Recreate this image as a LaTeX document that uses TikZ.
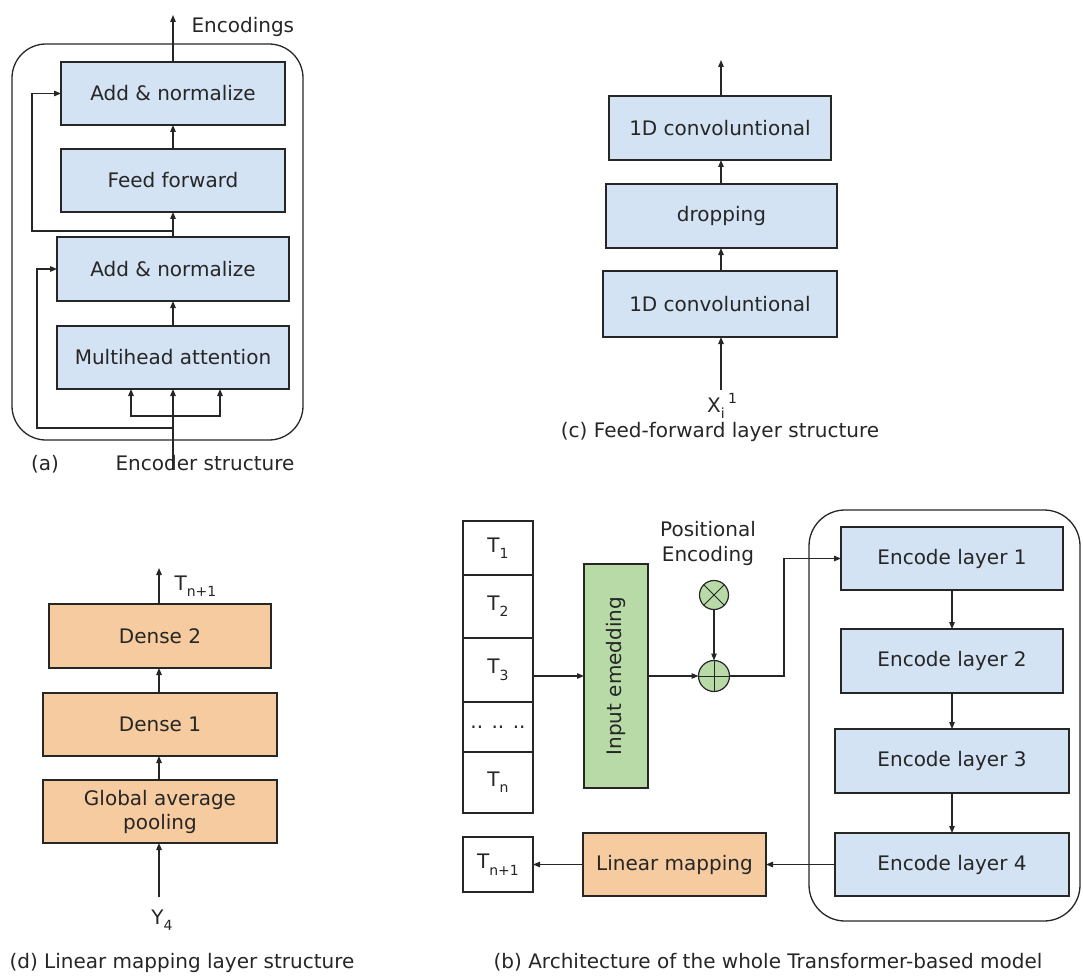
\documentclass[tikz,border=0pt]{standalone}
\usepackage{fontspec}
\setmainfont{DejaVu Sans}
\usetikzlibrary{arrows.meta}

\definecolor{boxblue}{HTML}{D3E3F4}
\definecolor{boxorange}{HTML}{F7CBA0}
\definecolor{boxgreen}{HTML}{B7DAA6}
\definecolor{ink}{HTML}{262626}

% lowered, smaller index text
\newcommand\lowsub[1]{\raisebox{-0.32em}{\fontsize{14}{15}\selectfont #1}}

\begin{document}
\begin{tikzpicture}[x=1pt,y=-1pt,
  font=\fontsize{20}{24}\selectfont, text=ink,
  sz/.style 2 args={minimum width=#1pt, minimum height=#2pt},
  box/.style={draw=ink, line width=1.3pt, inner sep=0pt, outer sep=0pt, align=center},
  bluebox/.style={box, fill=boxblue},
  orangebox/.style={box, fill=boxorange},
  greenbox/.style={box, fill=boxgreen},
  cell/.style={box, fill=white, line width=1.1pt, minimum width=70pt},
  opcircle/.style={circle, draw=ink, fill=boxgreen, line width=1.2pt, inner sep=0pt, outer sep=0pt},
  arr/.style={draw=ink, line width=1.2pt, -{Triangle[length=7pt,width=5.5pt]}},
  wire/.style={draw=ink, line width=1.2pt},
  frame/.style={draw=ink, line width=1.3pt, rounded corners=34pt},
  captxt/.style={anchor=base}
]
\useasboundingbox (0,0) rectangle (1083,976);

% ---------- (a) encoder structure ----------
\draw[frame] (12,44) rectangle (303,440);
\node[bluebox, sz={224}{63}] (a_add1) at (173,93.5)  {Add \& normalize};
\node[bluebox, sz={224}{63}] (a_ff)   at (173,180.5) {Feed forward};
\node[bluebox, sz={232}{64}] (a_add2) at (173,269)   {Add \& normalize};
\node[bluebox, sz={232}{63}] (a_mha)  at (173,357.5) {Multihead attention};

\coordinate (a_out) at (173,15);
\coordinate (a_in)  at (173,470);
\coordinate (a_j1)  at (173,231);
\coordinate (a_j2)  at (173,416);
\coordinate (a_j3)  at (173,428);

\draw[arr] (a_add1.north) -- (a_out);
\node[anchor=base west] (a_outlbl) at (188,33) {Encodings};
\draw[arr] (a_ff.north) -- (a_add1.south);
\draw[arr] (a_add2.north) -- (a_ff.south);
\draw[arr] (a_j1) -- ++(-141,0) |- (a_add1.west);
\draw[arr] (a_mha.north) -- (a_add2.south);
\draw[arr] (a_in) -- (a_mha.south);
\draw[arr] (a_j2) -| ([xshift=-42pt]a_mha.south);
\draw[arr] (a_j2) -| ([xshift=47pt]a_mha.south);
\draw[arr] (a_j3) -- ++(-136,0) |- (a_add2.west);

\node[captxt] (a_cap1) at (45,470) {(a)};
\node[captxt] (a_cap2) at (205,470) {Encoder structure};

% ---------- (c) feed-forward layer ----------
\node[bluebox, sz={222}{64}] (c_conv2) at (720,128) {1D convoluntional};
\node[bluebox, sz={231}{64}] (c_drop)  at (721.5,216) {dropping};
\node[bluebox, sz={234}{66}] (c_conv1) at (720,304) {1D convoluntional};

\coordinate (c_out) at (721,60);
\coordinate (c_in)  at (721,390);
\draw[arr] (c_conv2.north -| c_out) -- (c_out);
\draw[arr] (c_drop.north -| c_out) -- (c_conv2.south -| c_out);
\draw[arr] (c_conv1.north -| c_out) -- (c_drop.south -| c_out);
\draw[arr] (c_in) -- (c_conv1.south -| c_in);
\node[anchor=base] (c_inlbl) at (722,412) {X\lowsub{i}\,\raisebox{0.45em}{\fontsize{14}{15}\selectfont 1}};
\node[captxt] (c_cap) at (720,437) {(c) Feed-forward layer structure};

% ---------- (d) linear mapping layer ----------
\node[orangebox, sz={222}{64}] (d_dense2) at (160,636)   {Dense 2};
\node[orangebox, sz={234}{63}] (d_dense1) at (160,724.5) {Dense 1};
\node[orangebox, sz={234}{63}, font=\fontsize{20}{24}\selectfont] (d_gap) at (160,811.5) {Global average\\pooling};

\coordinate (d_out) at (159,568);
\coordinate (d_in)  at (159,897);
\draw[arr] (d_dense2.north -| d_out) -- (d_out);
\node[anchor=base west] (d_outlbl) at (171,590) {T\lowsub{n+1}};
\draw[arr] (d_dense1.north -| d_out) -- (d_dense2.south -| d_out);
\draw[arr] (d_gap.north -| d_out) -- (d_dense1.south -| d_out);
\draw[arr] (d_in) -- (d_gap.south -| d_in);
\node[anchor=base] (d_inlbl) at (162,924) {Y\lowsub{4}};
\node[captxt] (d_cap) at (182,968) {(d) Linear mapping layer structure};

% ---------- (b) whole model ----------
\node[cell, minimum height=54pt] (b_t1) at (498,548)   {T\lowsub{1}};
\node[cell, minimum height=63pt] (b_t2) at (498,606.5) {T\lowsub{2}};
\node[cell, minimum height=64pt] (b_t3) at (498,670)   {T\lowsub{3}};
\node[cell, minimum height=50pt] (b_td) at (498,727)   {.. .. ..};
\node[cell, minimum height=61pt] (b_tn) at (498,782.5) {T\lowsub{n}};
\node[cell, minimum height=55pt] (b_tn1) at (498,864.5) {T\lowsub{n+1}};

\node[greenbox, sz={64}{224}] (b_emb) at (616,676) {\rotatebox{90}{Input emedding}};

\node[opcircle, minimum size=29pt] (b_times) at (714,595) {};
\draw[wire, line width=1pt] (b_times.45) -- (b_times.225);
\draw[wire, line width=1pt] (b_times.135) -- (b_times.315);
\node[opcircle, minimum size=31pt] (b_plus) at (714,676) {};
\draw[wire, line width=1pt] (b_plus.north) -- (b_plus.south);
\draw[wire, line width=1pt] (b_plus.west) -- (b_plus.east);
\node[align=center, font=\fontsize{20}{25}\selectfont] (b_pos) at (708,543) {Positional\\Encoding};

\draw[frame, rounded corners=36pt] (809,510) rectangle (1080,921);
\node[bluebox, sz={222}{63}] (b_enc1) at (952,558.5) {Encode layer 1};
\node[bluebox, sz={222}{64}] (b_enc2) at (952,661)   {Encode layer 2};
\node[bluebox, sz={234}{64}] (b_enc3) at (952,761)   {Encode layer 3};
\node[bluebox, sz={234}{63}] (b_enc4) at (952,864.5) {Encode layer 4};

\node[orangebox, sz={183}{63}] (b_lin) at (674.5,864.5) {Linear mapping};

\coordinate (b_turn) at (784,676);
\draw[arr] (b_t3.east |- b_plus) -- (b_emb.west |- b_plus);
\draw[arr] (b_emb.east |- b_plus) -- (b_plus.west);
\draw[arr] (b_times.south) -- (b_plus.north);
\draw[arr] (b_plus.east) -- (b_turn) |- (b_enc1.west);
\draw[arr] (b_enc1.south) -- (b_enc2.north);
\draw[arr] (b_enc2.south) -- (b_enc3.north);
\draw[arr] (b_enc3.south) -- (b_enc4.north);
\draw[arr] (b_enc4.west) -- (b_lin.east);
\draw[arr] (b_lin.west) -- (b_tn1.east);

\node[captxt] (b_cap) at (768,968) {(b) Architecture of the whole Transformer-based model};
\end{tikzpicture}
\end{document}
